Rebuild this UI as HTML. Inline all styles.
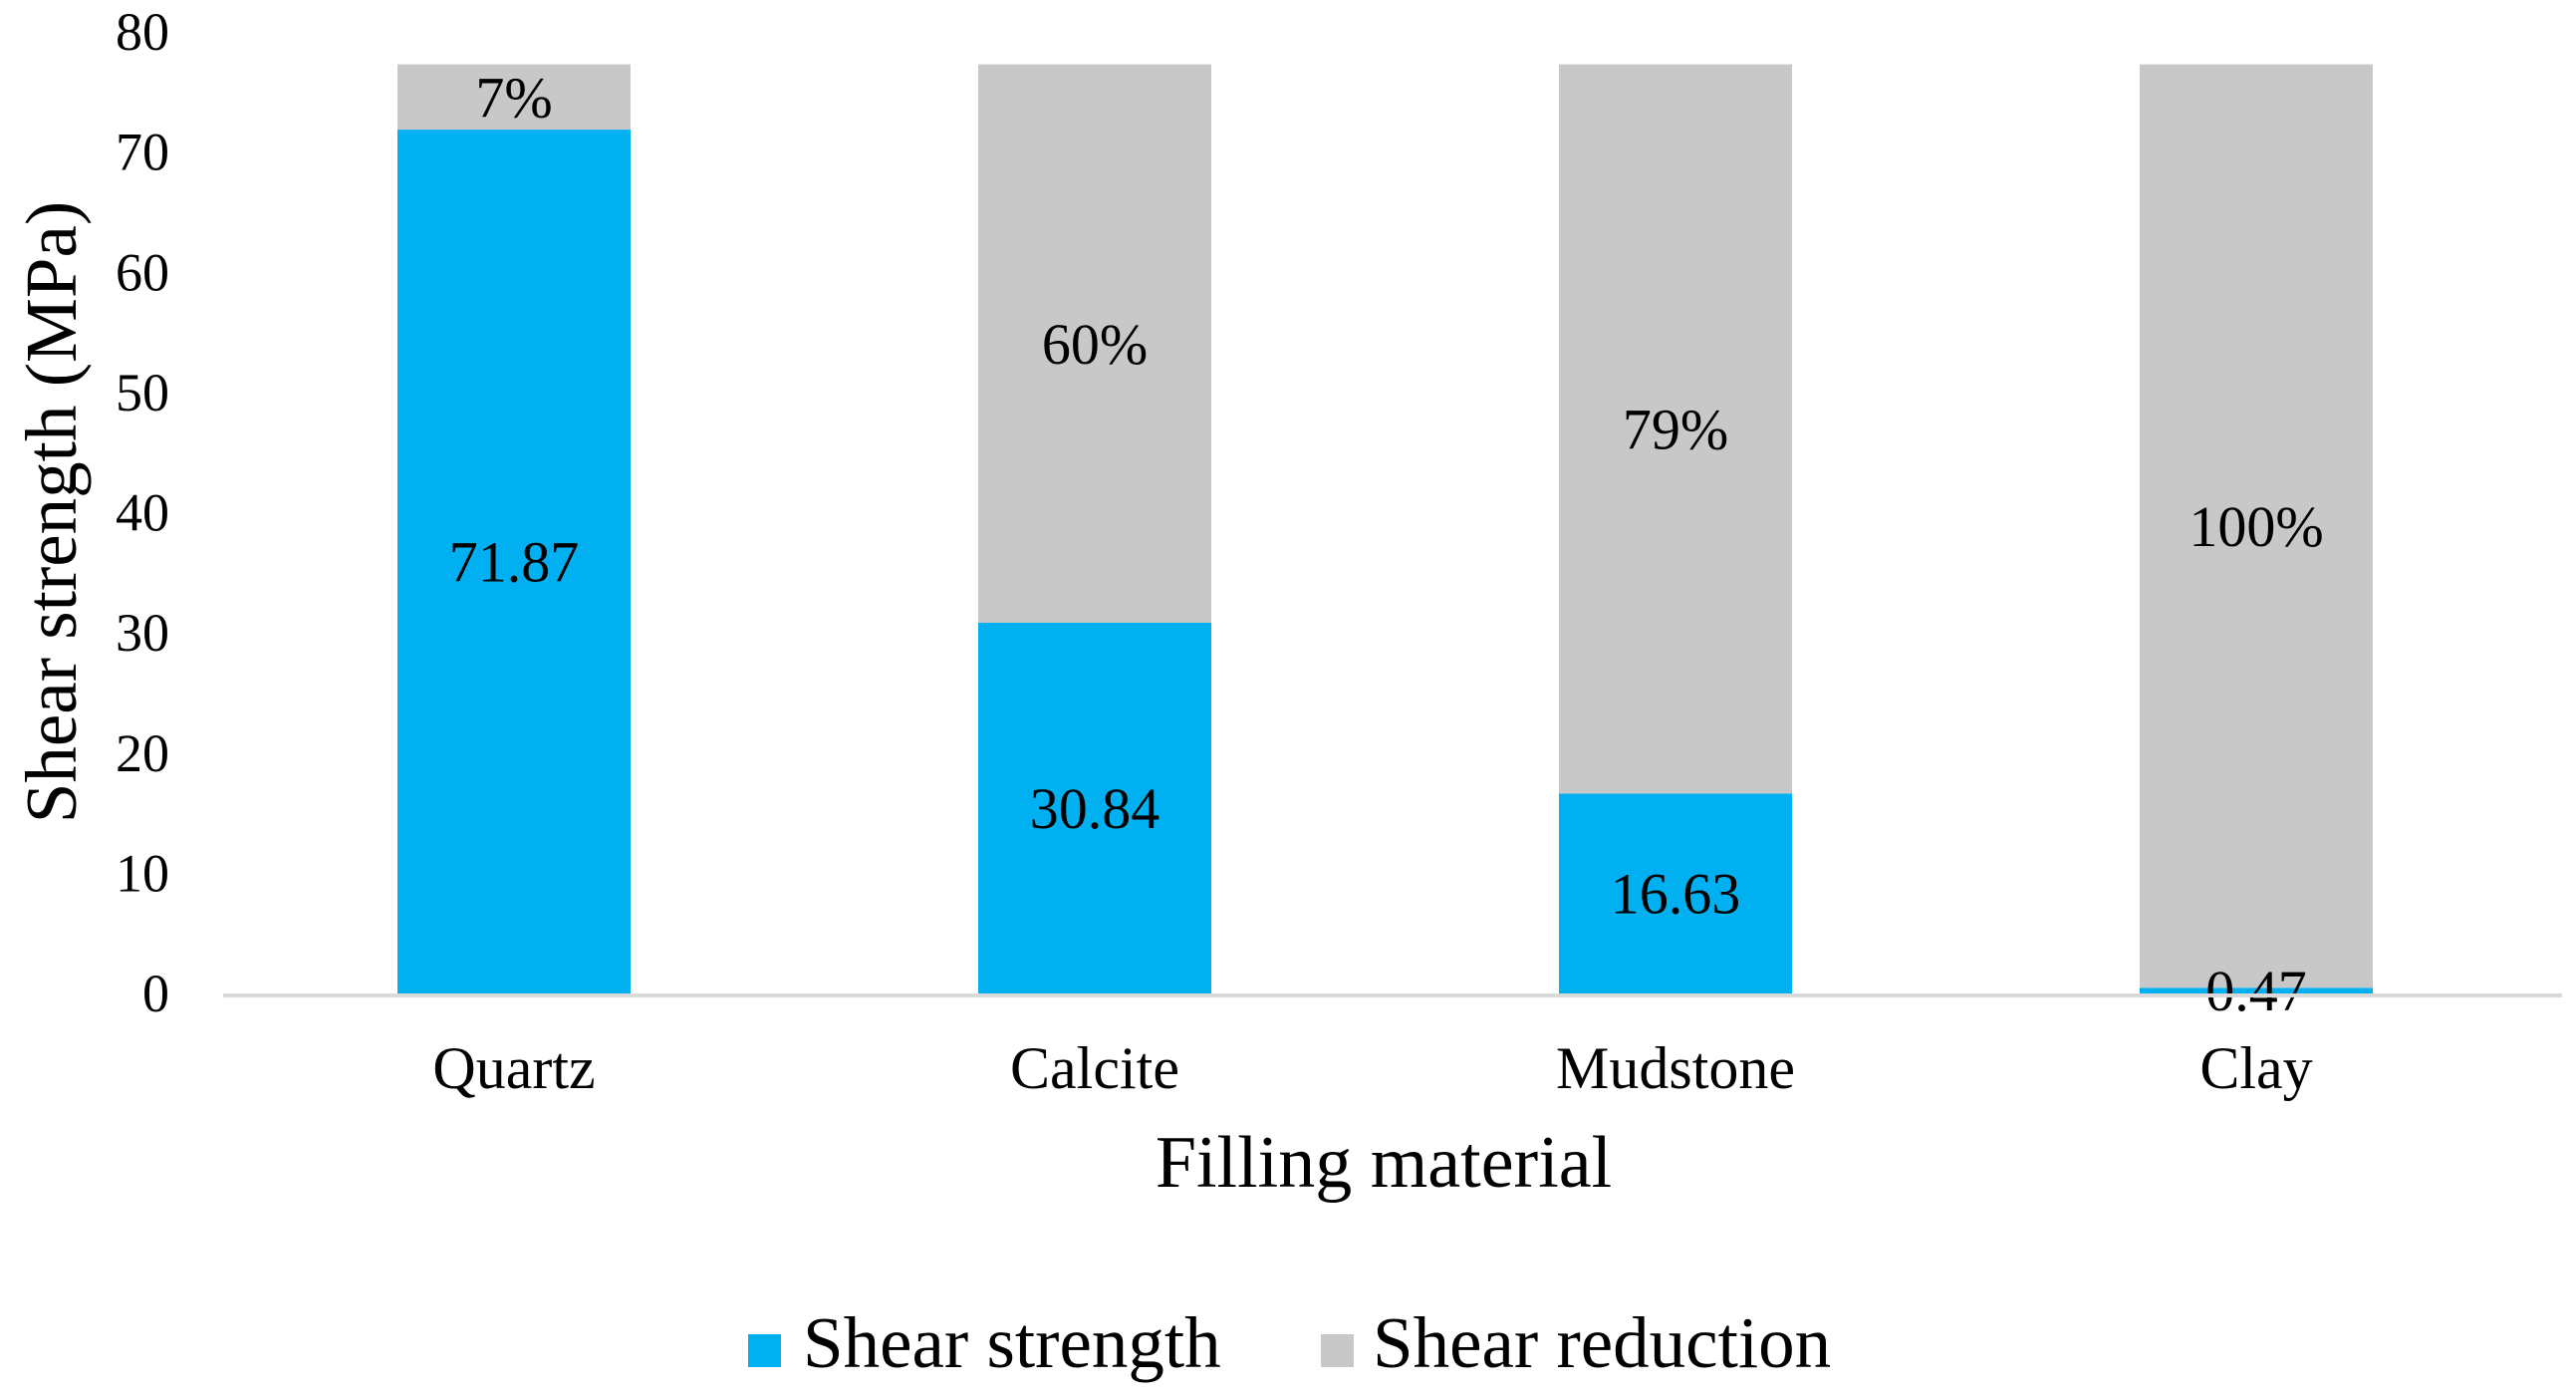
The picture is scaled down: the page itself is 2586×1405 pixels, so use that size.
<!DOCTYPE html>
<html><head><meta charset="utf-8"><style>
html,body{margin:0;padding:0;background:#fff;}
svg{display:block;font-family:"Liberation Serif",serif;}
</style></head><body>
<svg id="chart" width="2586" height="1405" viewBox="0 0 2586 1405" xmlns="http://www.w3.org/2000/svg">
<g id="yticks"></g>
<g id="bars"></g>
<g id="xlabels"></g>
<line x1="224" y1="999" x2="2572" y2="999" stroke="#D9D9D9" stroke-width="4"/>
<text x="0" y="0" transform="translate(76,514) rotate(-90)" text-anchor="middle" font-size="73" fill="#000">Shear strength (MPa)</text>
<text x="1389" y="1191" text-anchor="middle" font-size="74" fill="#000">Filling material</text>
<g>
<rect x="751" y="1339" width="33" height="33" fill="#00B0F0"/>
<text x="806" y="1372" font-size="73" fill="#000">Shear strength</text>
<rect x="1326" y="1339" width="33" height="33" fill="#C8C8C8"/>
<text x="1378" y="1372" font-size="73" fill="#000">Shear reduction</text>
</g>
</svg>
<script>
const categories = ["Quartz","Calcite","Mudstone","Clay"];
const strength = [71.87, 30.84, 16.63, 0.47];
const strengthLabels = ["71.87","30.84","16.63","0.47"];
const reduction = [5.43, 46.46, 60.67, 76.83];
const reductionLabels = ["7%","60%","79%","100%"];
const yTicks = [0,10,20,30,40,50,60,70,80];

const NS = "http://www.w3.org/2000/svg";
const y0 = 997, y80 = 32;
const yMax = 80;
function yScale(v){ return y0 - (v / yMax) * (y0 - y80); }
const band = 583;
function xCenter(i){ return 516 + band * i; }
const barW = 234;

function mk(tag, attrs){ const e = document.createElementNS(NS, tag); for (const k in attrs) e.setAttribute(k, attrs[k]); return e; }

const gy = document.getElementById('yticks');
yTicks.forEach(t => {
  const tx = mk('text', {x: 170, y: yScale(t) + 18, 'text-anchor': 'end', 'font-size': 54, fill: '#000'});
  
  
  tx.textContent = t;
  gy.appendChild(tx);
});

const gb = document.getElementById('bars');
const gx = document.getElementById('xlabels');
categories.forEach((c, i) => {
  const cx = xCenter(i);
  const s = strength[i], r = reduction[i];
  const yS = yScale(s), yT = yScale(s + r);
  const b1 = mk('rect', {x: cx - barW/2, y: yS, width: barW, height: y0 - yS, fill: '#00B0F0'});
  
  
  gb.appendChild(b1);
  const b2 = mk('rect', {x: cx - barW/2, y: yT, width: barW, height: yS - yT, fill: '#C8C8C8'});
  
  
  gb.appendChild(b2);
  const l1 = mk('text', {x: cx, y: (yS + y0) / 2 + 20, 'text-anchor': 'middle', 'font-size': 58, fill: '#000'});
  
  
  l1.textContent = strengthLabels[i];
  gb.appendChild(l1);
  const l2 = mk('text', {x: cx, y: (yT + yS) / 2 + 20, 'text-anchor': 'middle', 'font-size': 58, fill: '#000'});
  
  
  l2.textContent = reductionLabels[i];
  gb.appendChild(l2);
  const xl = mk('text', {x: cx, y: 1092, 'text-anchor': 'middle', 'font-size': 60, fill: '#000'});
  
  
  xl.textContent = c;
  gx.appendChild(xl);
});
</script>
</body></html>
